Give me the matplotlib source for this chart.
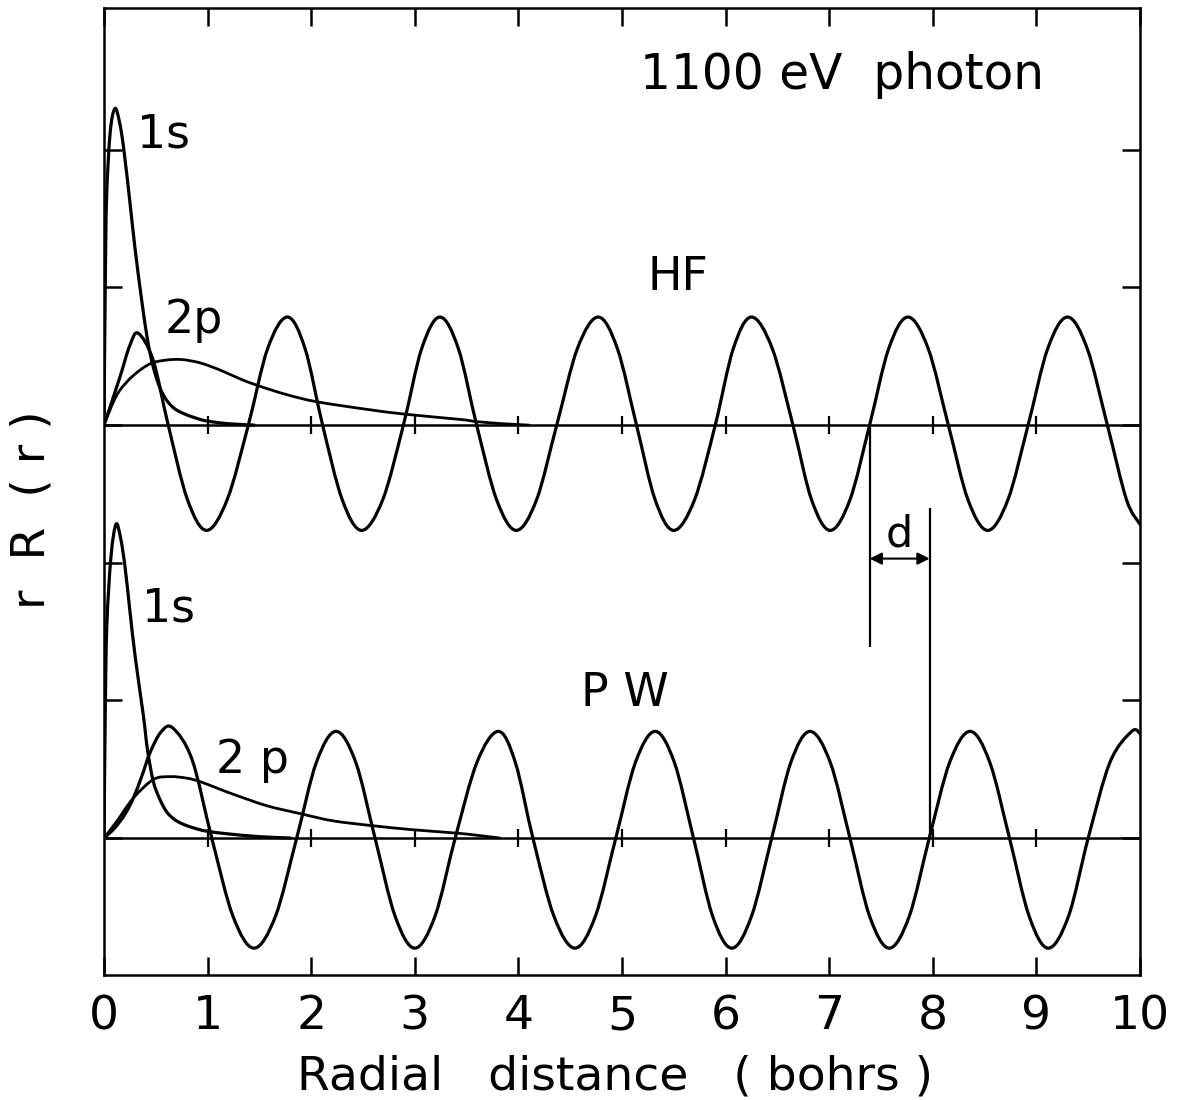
import numpy as np
import matplotlib.pyplot as plt
from matplotlib.path import Path
from matplotlib.patches import PathPatch

# y values are heights above each baseline
hf_wave_x = [0, 0.15, 0.25, 0.331, 0.475, 0.62, 0.805, 0.99, 1.19, 1.393, 1.58, 1.77, 1.94, 2.11,
             2.30, 2.487, 2.69, 2.89, 3.067, 3.243, 3.42, 3.597, 3.79, 3.98, 4.175, 4.37, 4.57,
             4.77, 4.955, 5.14, 5.32, 5.50, 5.70, 5.90, 6.075, 6.25, 6.45, 6.65, 6.83, 7.01, 7.20,
             7.39, 7.575, 7.76, 7.955, 8.15, 8.34, 8.53, 8.725, 8.92, 9.11, 9.30, 9.49, 9.685,
             9.87, 10.0]
hf_wave_y = [0, 0.34, 0.58, 0.667, 0.47, 0, -0.54, -0.765, -0.54, 0, 0.557, 0.785, 0.557, 0,
             -0.543, -0.765, -0.543, 0, 0.557, 0.785, 0.557, 0, -0.543, -0.765, -0.543, 0, 0.557,
             0.785, 0.557, 0, -0.543, -0.765, -0.543, 0, 0.557, 0.785, 0.557, 0, -0.543, -0.765,
             -0.543, 0, 0.557, 0.785, 0.557, 0, -0.543, -0.765, -0.543, 0, 0.557, 0.785, 0.557,
             0, -0.543, -0.72]

pw_wave_x = [0, 0.1, 0.2, 0.283, 0.37, 0.444, 0.55, 0.663, 0.85, 1.04, 1.245, 1.448, 1.655, 1.86,
             2.05, 2.24, 2.43, 2.616, 2.81, 3.00, 3.195, 3.39, 3.60, 3.806, 3.97, 4.14, 4.343,
             4.546, 4.743, 4.94, 5.13, 5.32, 5.505, 5.69, 5.875, 6.06, 6.25, 6.445, 6.63, 6.815,
             7.01, 7.20, 7.39, 7.58, 7.773, 7.966, 8.163, 8.36, 8.55, 8.74, 8.93, 9.115, 9.31,
             9.50, 9.71, 9.92, 10.0]
pw_wave_y = [0, 0.07, 0.17, 0.29, 0.46, 0.62, 0.77, 0.80, 0.57, 0, -0.568, -0.80, -0.568, 0,
             0.55, 0.775, 0.55, 0, -0.568, -0.80, -0.568, 0, 0.55, 0.775, 0.55, 0, -0.568,
             -0.80, -0.568, 0, 0.55, 0.775, 0.55, 0, -0.568, -0.80, -0.568, 0, 0.55, 0.775,
             0.55, 0, -0.568, -0.80, -0.568, 0, 0.55, 0.775, 0.55, 0, -0.568, -0.80, -0.568,
             0, 0.55, 0.775, 0.76]

hf_1s_x = [0, 0.012, 0.025, 0.06, 0.106, 0.15, 0.19, 0.25, 0.30, 0.364, 0.42, 0.476, 0.54,
           0.605, 0.68, 0.765, 0.87, 0.99, 1.2, 1.45]
hf_1s_y = [0, 1.0, 1.65, 2.13, 2.30, 2.20, 2.01, 1.62, 1.28, 0.906, 0.62, 0.42, 0.27, 0.18,
           0.12, 0.085, 0.055, 0.03, 0.01, 0]
pw_1s_x = [0, 0.012, 0.027, 0.068, 0.116, 0.16, 0.203, 0.25, 0.304, 0.38, 0.42, 0.476, 0.54,
           0.605, 0.68, 0.765, 0.88, 0.99, 1.2, 1.5, 1.8]
pw_1s_y = [0, 0.9, 1.54, 2.05, 2.28, 2.18, 1.97, 1.65, 1.30, 0.89, 0.64, 0.41, 0.28, 0.19,
           0.135, 0.10, 0.07, 0.05, 0.03, 0.01, 0]

hf_2p_x = [0, 0.08, 0.154, 0.283, 0.444, 0.6, 0.75, 0.927, 1.12, 1.3, 1.474, 1.76, 2.05, 2.54,
           2.92, 3.44, 3.6, 3.85, 4.1]
hf_2p_y = [0, 0.15, 0.254, 0.36, 0.445, 0.472, 0.476, 0.452, 0.40, 0.34, 0.29, 0.222, 0.17,
           0.114, 0.078, 0.041, 0.025, 0.01, 0]
pw_2p_x = [0, 0.122, 0.283, 0.476, 0.637, 0.8, 0.927, 1.1, 1.248, 1.57, 1.89, 2.21, 2.6, 2.985,
           3.40, 3.6, 3.82]
pw_2p_y = [0, 0.12, 0.29, 0.425, 0.446, 0.435, 0.41, 0.36, 0.318, 0.235, 0.178, 0.125, 0.089,
           0.06, 0.036, 0.02, 0]

x_ticks = [0, 1, 2, 3, 4, 5, 6, 7, 8, 9, 10]
y_ticks = [1, 2, 3, 4, 5, 6]
hf_base = 4.0
pw_base = 1.0
d_left = 7.39    # HF node
d_right = 7.97   # PW node


def smooth_line(ax, x, y, base, lw=2.3):
    # catmull-rom through the read points
    p = np.column_stack([x, np.asarray(y) + base])
    p = np.vstack([p[:1], p, p[-1:]])
    verts = [p[1]]
    codes = [Path.MOVETO]
    for i in range(1, len(p) - 2):
        verts += [p[i] + (p[i + 1] - p[i - 1]) / 6,
                  p[i + 1] - (p[i + 2] - p[i]) / 6,
                  p[i + 1]]
        codes += [Path.CURVE4] * 3
    ax.add_patch(PathPatch(Path(verts, codes), fill=False, lw=lw,
                           edgecolor='black', joinstyle='round', capstyle='round'))


fig = plt.figure(figsize=(11.77, 11.0), dpi=100)
ax = fig.add_axes([104 / 1177, 1 - 975 / 1100, 1036 / 1177, 967 / 1100])
ax.set_xlim(0, 10)
ax.set_ylim(0.005, 7.03)

for b in (hf_base, pw_base):
    ax.axhline(b, color='black', lw=1.8)
    ax.plot(x_ticks[1:-1], [b] * 9, ls='none', marker='|', ms=13, mew=1.6, color='black')

smooth_line(ax, hf_wave_x, hf_wave_y, hf_base)
smooth_line(ax, pw_wave_x, pw_wave_y, pw_base)
smooth_line(ax, hf_1s_x, hf_1s_y, hf_base)
smooth_line(ax, pw_1s_x, pw_1s_y, pw_base)
smooth_line(ax, hf_2p_x, hf_2p_y, hf_base, lw=2.0)
smooth_line(ax, pw_2p_x, pw_2p_y, pw_base, lw=2.0)

# d marker
ax.vlines(d_left, 2.39, hf_base, color='black', lw=1.6)
ax.vlines(d_right, pw_base, 3.4, color='black', lw=1.6)
ax.annotate('', xy=(d_left, 3.03), xytext=(d_right, 3.03),
            arrowprops=dict(arrowstyle='<|-|>', color='black', lw=1.5,
                            shrinkA=0, shrinkB=0, mutation_scale=18))
ax.text(7.68, 3.12, 'd', fontsize=31, ha='center', va='baseline')

ax.text(0.32, 6.02, '1s', fontsize=33, ha='left', va='baseline')
ax.text(0.59, 4.67, '2p', fontsize=33, ha='left', va='baseline')
ax.text(0.37, 2.57, '1s', fontsize=33, ha='left', va='baseline')
ax.text(1.08, 1.47, '2 p', fontsize=33, ha='left', va='baseline')
ax.text(5.25, 4.98, 'HF', fontsize=33, ha='left', va='baseline')
ax.text(4.6, 1.96, 'P W', fontsize=33, ha='left', va='baseline')
ax.text(5.17, 6.44, '1100 eV  photon', fontsize=35, ha='left', va='baseline')

ax.set_xticks(x_ticks)
ax.set_yticks(y_ticks)
ax.set_yticklabels([])
ax.tick_params(direction='in', length=13, width=1.8, top=True, right=True,
               labelsize=34, pad=14)
for s in ax.spines.values():
    s.set_linewidth(1.8)

fig.text(615 / 1177, 1 - 1090 / 1100, 'Radial   distance   ( bohrs )', fontsize=34,
         ha='center', va='baseline')
fig.text(32 / 1177, 1 - 510 / 1100, 'r  R  ( r )', fontsize=34, rotation=90,
         ha='center', va='center')

fig.savefig('out.png', dpi=100)
